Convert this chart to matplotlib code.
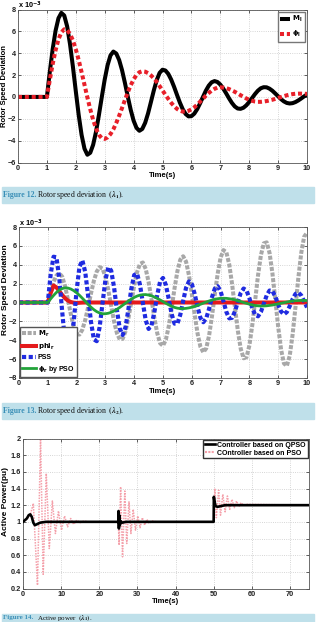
import numpy as np
import matplotlib
matplotlib.use('Agg')
import matplotlib.pyplot as plt
from matplotlib.patches import Rectangle
from matplotlib.lines import Line2D

plt.rcParams['font.family'] = ['Liberation Sans', 'DejaVu Sans']
plt.rcParams['font.weight'] = 'bold'
plt.rcParams['axes.labelweight'] = 'bold'

W, H = 316, 622

# ---------------- data, rotor speed in 1e-3 units ----------------
t_rotor = np.round(np.arange(0, 10.01, 0.1), 2)

M_l = [0, 0, 0, 0, 0, 0, 0, 0, 0, 0, 0,
       2.29, 4.37, 6.06, 7.2, 7.69, 7.45, 6.46, 4.83, 2.77, 0.52,
       -1.65, -3.47, -4.73, -5.29, -5.11, -4.38, -3.18, -1.65, 0.0, 1.59,
       2.91, 3.8, 4.15, 3.97, 3.38, 2.45, 1.28, 0.02, -1.18, -2.17,
       -2.83, -3.1, -2.93, -2.37, -1.51, -0.46, 0.6, 1.54, 2.2, 2.49,
       2.42, 2.11, 1.59, 0.93, 0.2, -0.51, -1.12, -1.56, -1.78, -1.76,
       -1.53, -1.12, -0.59, 0.0, 0.57, 1.03, 1.34, 1.45, 1.37, 1.13,
       0.77, 0.34, -0.12, -0.54, -0.87, -1.06, -1.09, -0.99, -0.77, -0.46,
       -0.1, 0.26, 0.57, 0.79, 0.89, 0.88, 0.76, 0.57, 0.32, 0.06,
       -0.2, -0.41, -0.55, -0.6, -0.57, -0.47, -0.32, -0.14, 0.05, 0.22]

phi_l = [0, 0, 0, 0, 0, 0, 0, 0, 0, 0, 0,
         1.55, 3.01, 4.27, 5.26, 5.91, 6.19, 6.11, 5.77, 5.17, 4.36,
         3.38, 2.27, 1.12, -0.04, -1.13, -2.1, -2.89, -3.47, -3.78, -3.84,
         -3.7, -3.4, -2.96, -2.38, -1.72, -1.01, -0.28, 0.43, 1.06, 1.6,
         2.01, 2.26, 2.35, 2.31, 2.18, 1.97, 1.7, 1.37, 0.99, 0.6,
         0.2, -0.18, -0.54, -0.84, -1.09, -1.26, -1.34, -1.34, -1.27, -1.14,
         -0.95, -0.71, -0.44, -0.17, 0.11, 0.36, 0.58, 0.74, 0.85, 0.88,
         0.86, 0.81, 0.72, 0.6, 0.47, 0.32, 0.16, 0.01, -0.14, -0.26,
         -0.35, -0.42, -0.45, -0.45, -0.42, -0.38, -0.32, -0.26, -0.18, -0.09,
         -0.01, 0.07, 0.15, 0.21, 0.26, 0.29, 0.3, 0.3, 0.29, 0.28]

M_r = [0, 0, 0, 0, 0, 0, 0, 0, 0, 0, 0,
       1.19, 2.19, 2.86, 3.1, 2.74, 1.72, 0.29, -1.25, -2.55, -3.32,
       -3.4, -2.88, -1.85, -0.5, 0.97, 2.3, 3.28, 3.75, 3.59, 2.73,
       1.33, -0.36, -1.99, -3.25, -3.92, -3.84, -3.04, -1.65, 0.06, 1.79,
       3.22, 4.09, 4.24, 3.56, 2.17, 0.33, -1.61, -3.25, -4.32, -4.58,
       -3.94, -2.52, -0.58, 1.49, 3.31, 4.53, 4.9, 4.33, 2.91, 0.91,
       -1.28, -3.28, -4.69, -5.27, -4.86, -3.51, -1.47, 0.88, 3.08, 4.75,
       5.55, 5.32, 4.03, 1.93, -0.58, -3.02, -4.92, -5.91, -5.79, -4.54,
       -2.4, 0.24, 2.88, 5.02, 6.27, 6.37, 5.25, 3.08, 0.29, -2.58,
       -4.99, -6.46, -6.72, -5.64, -3.41, -0.47, 2.62, 5.25, 6.96, 7.4]

phi_r = [0, 0, 0, 0, 0, 0, 0, 0, 0, 0, 0,
         1.0, 1.8, 1.6, 1.2, 0.8, 0.45, 0.2, 0.05, -0.02, -0.05,
         -0.03, -0.01, 0, 0, 0, 0, 0, 0, 0, 0,
         0, 0, 0, 0, 0, 0, 0, 0, 0, 0,
         0, 0, 0, 0, 0, 0, 0, 0, 0, 0,
         0, 0, 0, 0, 0, 0, 0, 0, 0, 0,
         0, 0, 0, 0, 0, 0, 0, 0, 0, 0,
         0, 0, 0, 0, 0, 0, 0, 0, 0, 0,
         0, 0, 0, 0, 0, 0, 0, 0, 0, 0,
         0, 0, 0, 0, 0, 0, 0, 0, 0, 0]

pss = [0, 0, 0, 0, 0, 0, 0, 0, 0, 0, 0,
       3.0, 4.85, 4.79, 2.53, -0.98, -4.16, -5.59, -4.71, -2.04, 1.26,
       3.79, 4.46, 3.22, 0.7, -2.06, -3.91, -4.1, -2.6, -0.08, 2.37,
       3.72, 3.39, 1.62, -0.8, -2.78, -3.44, -2.6, -0.69, 1.45, 2.91,
       3.06, 1.9, -0.03, -1.88, -2.8, -2.43, -1.02, 0.81, 2.22, 2.6,
       1.86, 0.37, -1.22, -2.24, -2.24, -1.3, 0.17, 1.55, 2.23, 1.96,
       0.91, -0.48, -1.64, -2.09, -1.69, -0.67, 0.56, 1.48, 1.72, 1.19,
       0.12, -1.0, -1.68, -1.62, -0.93, 0.09, 1.02, 1.48, 1.26, 0.46,
       -0.56, -1.31, -1.46, -0.99, -0.13, 0.75, 1.27, 1.21, 0.63, -0.23,
       -0.96, -1.25, -1.01, -0.39, 0.35, 0.91, 1.06, 0.75, 0.13, -0.52]

phi_r_pso = [0, 0, 0, 0, 0, 0, 0, 0, 0, 0, 0,
             0.39, 0.75, 1.07, 1.32, 1.48, 1.55, 1.53, 1.43, 1.26, 1.03,
             0.76, 0.45, 0.13, -0.19, -0.5, -0.76, -0.97, -1.11, -1.19, -1.19,
             -1.14, -1.04, -0.9, -0.72, -0.52, -0.29, -0.07, 0.16, 0.36, 0.54,
             0.68, 0.78, 0.83, 0.84, 0.79, 0.71, 0.59, 0.44, 0.27, 0.1,
             -0.08, -0.25, -0.4, -0.52, -0.6, -0.64, -0.65, -0.62, -0.57, -0.5,
             -0.41, -0.3, -0.19, -0.07, 0.05, 0.16, 0.26, 0.34, 0.4, 0.44,
             0.45, 0.44, 0.4, 0.35, 0.28, 0.19, 0.1, 0.0, -0.09, -0.18,
             -0.26, -0.32, -0.35, -0.37, -0.37, -0.35, -0.31, -0.27, -0.21, -0.15,
             -0.08, -0.02, 0.05, 0.11, 0.16, 0.19, 0.21, 0.22, 0.22, 0.21]

# active power (pu)
t_qpso = [0, 1, 1.5, 1.9, 2.3, 2.7, 3.1, 3.6, 4.5, 6, 25, 25.05, 25.15, 25.25,
          25.4, 25.6, 26, 27, 50, 50.05, 50.2, 50.5, 51, 52, 53, 55, 75]
p_qpso = [1.0, 1.04, 1.08, 1.09, 1.06, 0.99, 0.96, 0.97, 0.99, 1.0, 1.0, 1.13, 0.92, 1.08,
          0.96, 1.01, 0.99, 1.0, 1.0, 1.3, 1.25, 1.19, 1.18, 1.19, 1.2, 1.2, 1.2]

t_pso = [0, 1, 2, 2.7, 3.8, 4.6, 5.3, 6.1, 6.9, 7.7, 8.5, 9.3, 10.1, 10.9, 11.7, 12.5,
         13.3, 14.1, 15, 16, 17, 25,
         25.2, 25.6, 26.1, 26.7, 27.2, 27.8, 28.3, 28.9, 29.5, 30.1, 30.7, 31.3, 31.9,
         32.5, 33.1, 33.8, 35, 50,
         50.3, 50.7, 51.3, 51.8, 52.4, 53, 53.6, 54.2, 54.8, 55.4, 56, 56.6, 57.2,
         57.8, 58.5, 75]
p_pso = [1.0, 1.03, 1.1, 1.22, 0.24, 1.98, 0.37, 1.58, 0.68, 1.25, 0.86, 1.13, 0.9, 1.07,
         0.94, 1.04, 0.97, 1.02, 0.99, 1.01, 1.0, 1.0,
         0.72, 1.42, 0.58, 1.37, 0.74, 1.24, 0.86, 1.15, 0.9, 1.07, 0.93, 1.05, 0.96,
         1.03, 0.98, 1.01, 1.0, 1.0,
         1.4, 1.05, 1.38, 1.08, 1.33, 1.12, 1.31, 1.15, 1.27, 1.17, 1.25, 1.18, 1.23,
         1.2, 1.21, 1.2]

fig = plt.figure(figsize=(W / 100, H / 100), dpi=100)


def px_rect(l, t, r, b):
    return [l / W, 1 - b / H, (r - l) / W, (b - t) / H]


def style_axes(ax):
    ax.grid(True, color='#c8c8c8', linestyle=':', linewidth=0.6)
    ax.tick_params(direction='in', length=2, width=0.5, labelsize=5.3, pad=1.5,
                   top=True, right=True, colors='#222222')
    for s in ax.spines.values():
        s.set_linewidth(0.6)
        s.set_color('#555555')
    for lab in ax.get_xticklabels() + ax.get_yticklabels():
        lab.set_fontweight('bold')


def caption(yc, num, rest):
    fig.patches.append(Rectangle((2 / W, 1 - (yc + 8) / H), 312 / W, 16 / H,
                                 transform=fig.transFigure, color='#bfe0ea', zorder=0))
    fig.text(3 / W, 1 - yc / H, f"Figure {num}.", color='#3a8fb7', fontweight='bold',
             family='Liberation Serif', fontsize=5.6, va='center')
    fig.text(37 / W, 1 - yc / H, rest, color='#111111', fontweight='normal',
             family='Liberation Serif', fontsize=5.6, va='center', math_fontfamily='stix')


# ---------------- panel 1 ----------------
ax1 = fig.add_axes(px_rect(18, 9.5, 307, 162.5))
ax1.plot(t_rotor, M_l, color='black', lw=2.9, label=r'$\mathbf{M_l}$', solid_capstyle='butt')
ax1.plot(t_rotor, phi_l, color='#e8202a', lw=2.9, ls=(0, (1, 0.7)), label=r'$\mathbf{\phi_l}$')
ax1.set_xlim(0, 10)
ax1.set_ylim(-6, 8)
ax1.set_xticks(range(0, 11))
ax1.set_yticks(range(-6, 9, 2))
ax1.set_xlabel('Time(s)', fontsize=5.5, labelpad=0.5)
style_axes(ax1)
ax1.legend(loc='upper right', fontsize=5, handlelength=1.4, handletextpad=0.3,
           borderpad=0.35, labelspacing=0.7, borderaxespad=0.3, fancybox=False,
           edgecolor='#777777', framealpha=1)
fig.text(5 / W, 1 - 86 / H, 'Rotor Speed Deviation', rotation=90, fontsize=5.5,
         fontweight='bold', ha='center', va='center')
fig.text(18 / W, 1 - 5 / H, r'x 10$^{-3}$', fontsize=5.3, fontweight='bold', va='center')
caption(195, 12, r'Rotor speed deviation  $(\lambda_1)$.')

# ---------------- panel 2 ----------------
ax2 = fig.add_axes(px_rect(19, 227, 307, 378))
ax2.plot(t_rotor, M_r, color='#a8a8a8', lw=2.9, ls=(0, (1, 0.4)), label=r'$\mathbf{M_r}$')
ax2.plot(t_rotor, phi_r, color='#e41a1c', lw=2.9, label=r'$\mathbf{phi_r}$')
ax2.plot(t_rotor, pss, color='#1f2be0', lw=3.0, ls=(0, (1, 0.6)), label='PSS')
ax2.plot(t_rotor, phi_r_pso, color='#22a33a', lw=2.0, label=r'$\mathbf{\phi_r}$ by PSO')
ax2.set_xlim(0, 10)
ax2.set_ylim(-8, 8)
ax2.set_xticks(range(0, 11))
ax2.set_yticks(range(-8, 9, 2))
ax2.set_xlabel('Time(s)', fontsize=5.5, labelpad=0.5)
style_axes(ax2)
ax2.legend(loc='lower left', fontsize=5, handlelength=1.9, handletextpad=0.3,
           borderpad=0.3, labelspacing=0.35, borderaxespad=0.2, fancybox=False,
           edgecolor='#555555', framealpha=1)
fig.text(5.5 / W, 1 - 290 / H, 'Rotor Speed Deviation', rotation=90, fontsize=6,
         fontweight='bold', ha='center', va='center')
fig.text(19 / W, 1 - 223 / H, r'x 10$^{-3}$', fontsize=5.3, fontweight='bold', va='center')
caption(411, 13, r'Rotor speed deviation  $(\lambda_2)$.')

# ---------------- panel 3 ----------------
ax3 = fig.add_axes(px_rect(23, 438.5, 309, 588.5))
ax3.plot(t_pso, p_pso, color='#f4a0aa', lw=1.1, ls=(0, (1, 0.8)), zorder=2)
ax3.plot(t_qpso, p_qpso, color='black', lw=1.9, zorder=3)
ax3.set_xlim(0, 75)
ax3.set_ylim(0.2, 2)
ax3.set_xticks(range(0, 71, 10))
yt = np.round(np.arange(0.2, 2.01, 0.2), 1)
ax3.set_yticks(yt)
ax3.set_yticklabels([f'{v:g}' for v in yt])
ax3.set_xlabel('Time(s)', fontsize=5.5, labelpad=0.5)
style_axes(ax3)
handles = [Line2D([], [], color='black', lw=1.9),
           Line2D([], [], color='#f4a0aa', lw=1.5, ls=(0, (1, 0.6)))]
ax3.legend(handles, ['Controller based on QPSO', 'COntroller based on PSO'],
           loc='upper right', fontsize=5, handlelength=1.5, handletextpad=0.3,
           borderpad=0.25, labelspacing=0.15, borderaxespad=0.2, fancybox=False,
           edgecolor='#333333', framealpha=1)
fig.text(6 / W, 1 - 502 / H, 'Active Power(pu)', rotation=90, fontsize=6,
         fontweight='bold', ha='center', va='center')
# bottom caption band is cut by the page edge in the reference; keep text inside
fig.patches.append(Rectangle((2 / W, 0), 312 / W, 8 / H, transform=fig.transFigure,
                             color='#bfe0ea', zorder=0))
fig.text(3 / W, 1 - 618 / H, "Figure 14.", color='#3a8fb7', fontweight='bold',
         family='Liberation Serif', fontsize=5.0, va='center')
fig.text(37 / W, 1 - 618 / H, r'Active power  $(\lambda_1)$.', color='#111111',
         fontweight='normal', family='Liberation Serif', fontsize=5.0, va='center',
         math_fontfamily='stix')

fig.savefig('out.png', dpi=100)
